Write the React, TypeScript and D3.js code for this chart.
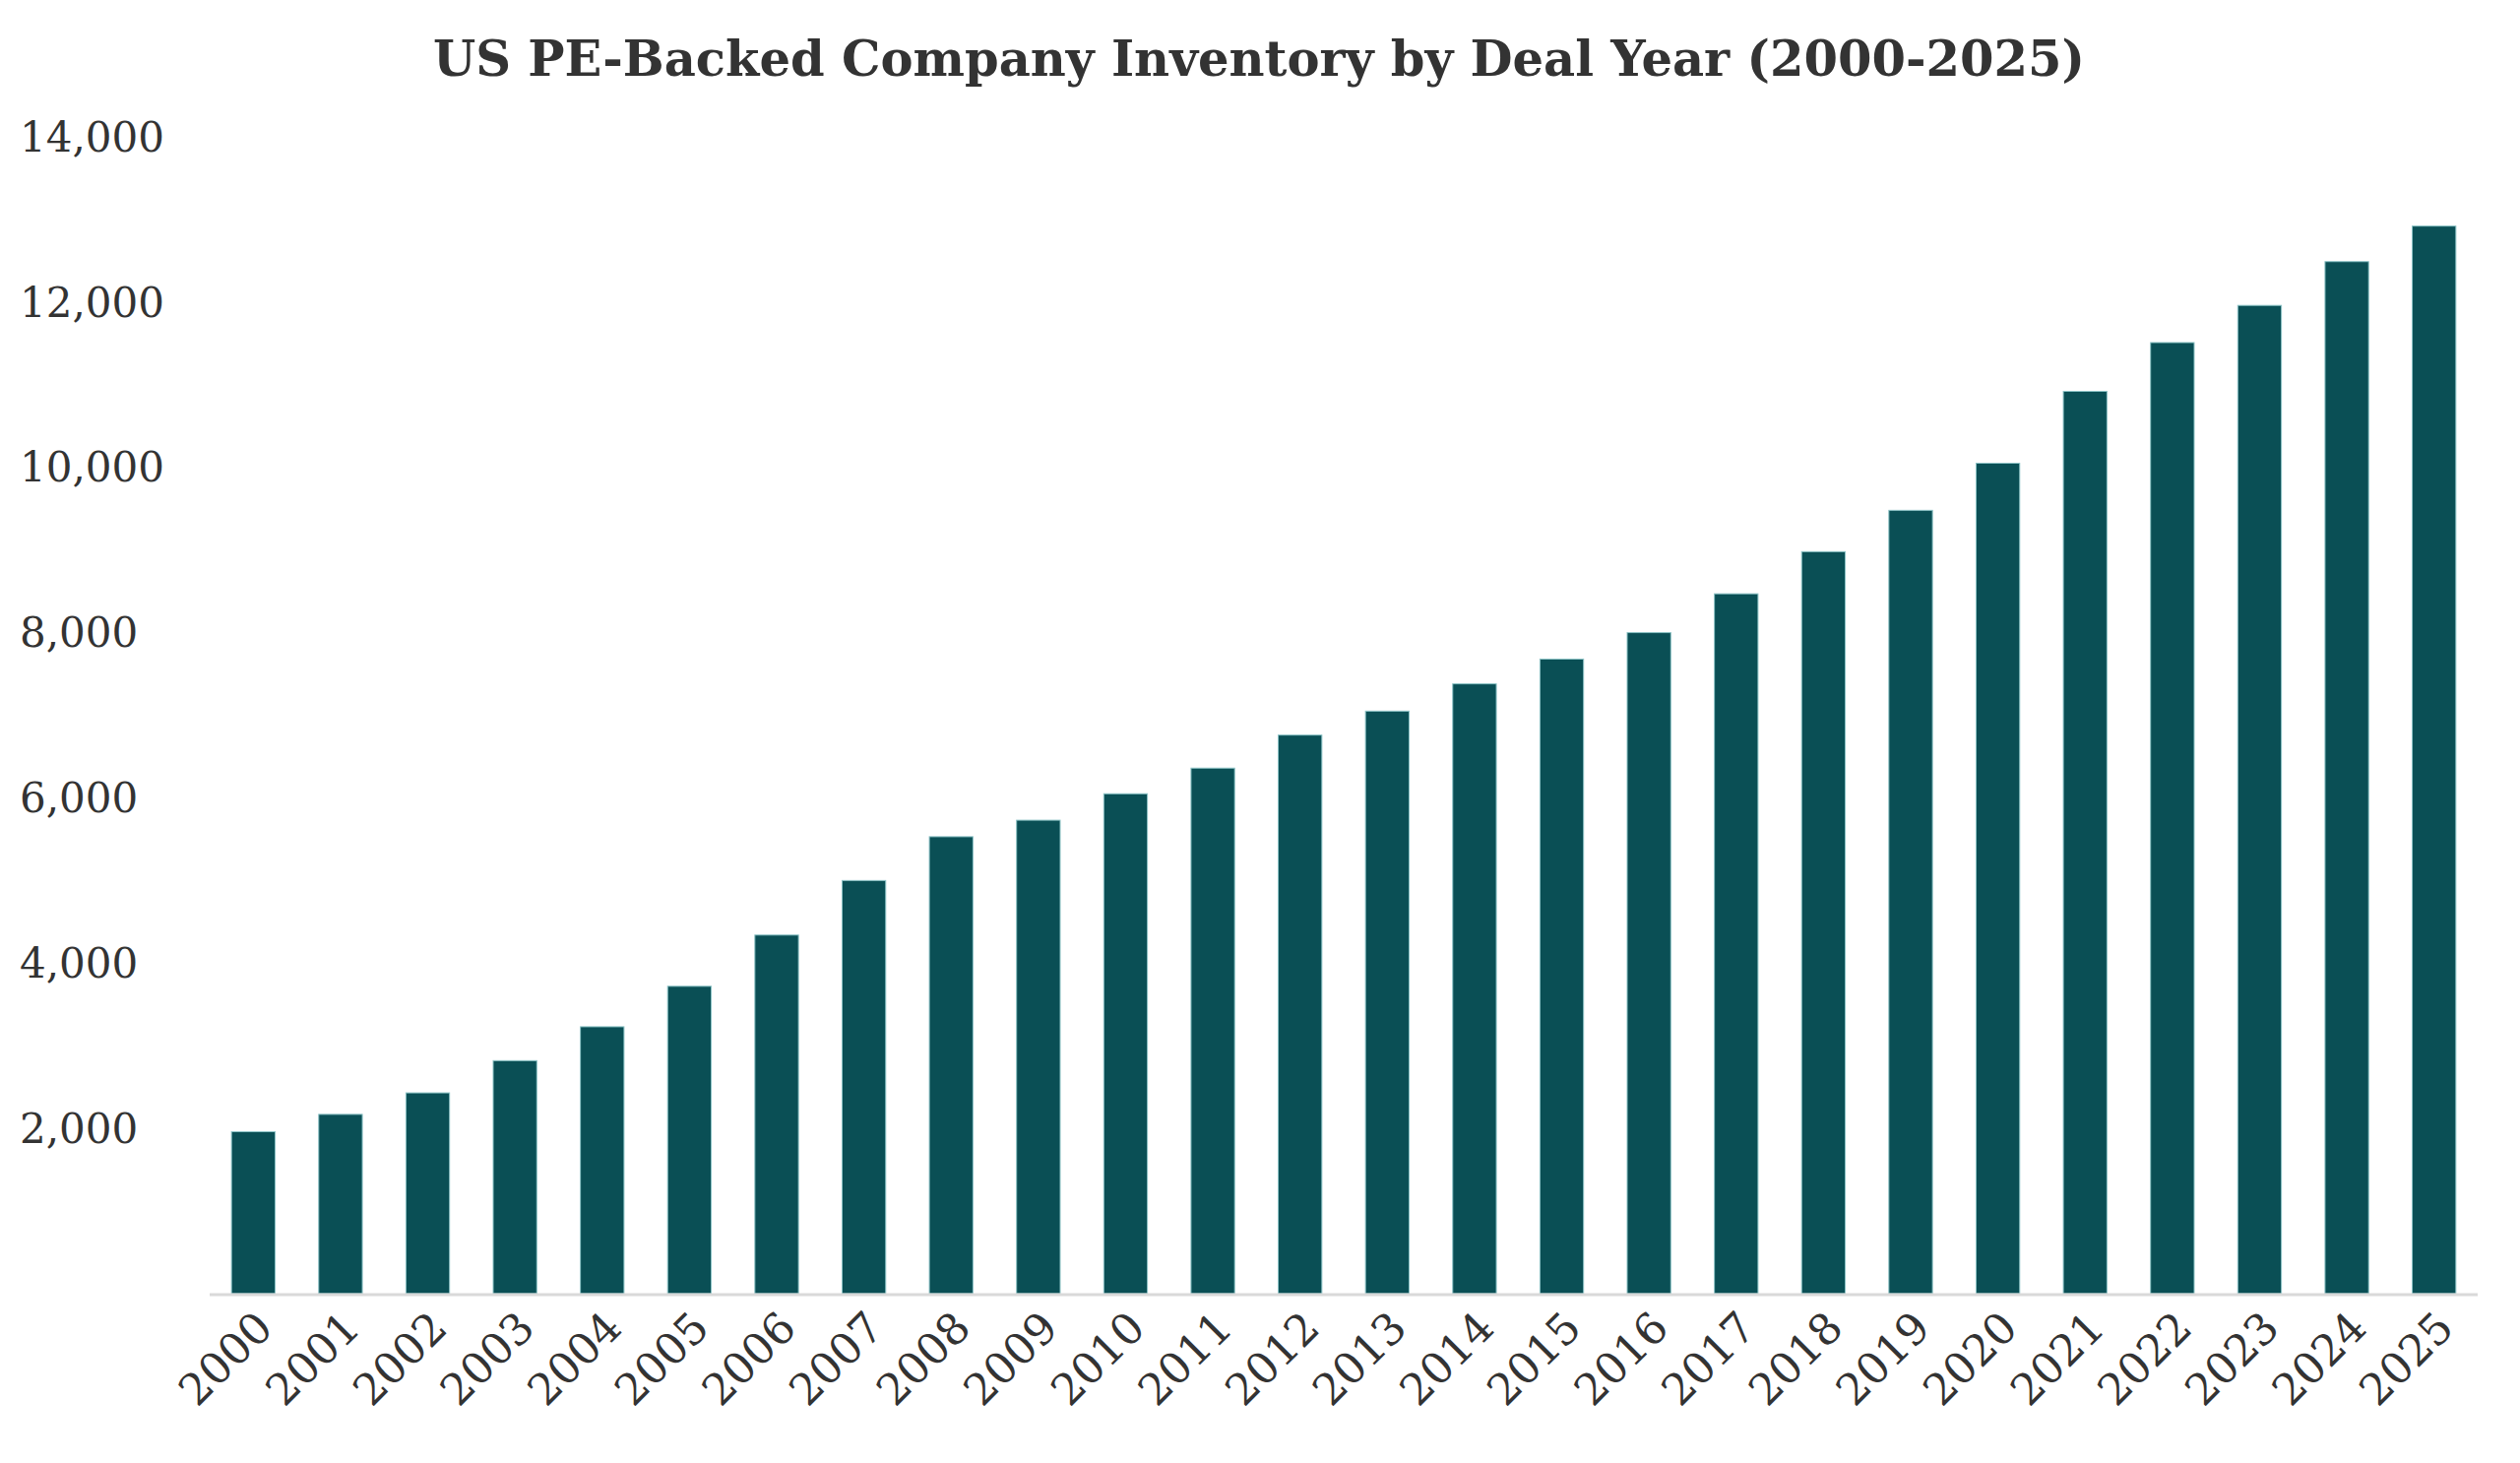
import React, { useRef, useEffect } from 'react'
import * as d3 from 'd3'

const years: string[] = [
  '2000', '2001', '2002', '2003', '2004', '2005', '2006', '2007', '2008',
  '2009', '2010', '2011', '2012', '2013', '2014', '2015', '2016', '2017',
  '2018', '2019', '2020', '2021', '2022', '2023', '2024', '2025',
]

const inventory: number[] = [
  1960, 2170, 2430, 2820, 3230, 3720, 4340, 5000, 5530,
  5730, 6050, 6360, 6760, 7050, 7380, 7680, 8000, 8470,
  8980, 9480, 10050, 10920, 11510, 11960, 12490, 12920,
]

const yTicks: number[] = [2000, 4000, 6000, 8000, 10000, 12000, 14000]

const title = 'US PE-Backed Company Inventory by Deal Year (2000-2025)'

const width = 2560
const height = 1486
const margin = { top: 139, right: 43, bottom: 172, left: 213 }
const serif = "Georgia, 'DejaVu Serif', serif"

const App: React.FC = () => {
  const svgRef = useRef<SVGSVGElement | null>(null)

  useEffect(() => {
    if (!svgRef.current) return
    const svg = d3.select(svgRef.current)
    svg.selectAll('*').remove()

    const iw = width - margin.left - margin.right
    const ih = height - margin.top - margin.bottom

    const x = d3.scaleBand<string>()
      .domain(years)
      .range([0, iw])
      .paddingInner(0.5)
      .paddingOuter(0.25)

    const y = d3.scaleLinear()
      .domain([0, 14000])
      .range([ih, 0])

    const chart = svg.append('g')
      .attr('transform', `translate(${margin.left},${margin.top})`)

    // title
    svg.append('text')
      .attr('x', 1279)
      .attr('y', 77)
      .attr('text-anchor', 'middle')
      .style('font-family', serif)
      .style('font-weight', 'bold')
      .style('font-size', '49.6px')
      .style('fill', '#333333')
      .text(title)

    // y tick labels (left aligned at page edge, no axis line)
    svg.append('g')
      .selectAll('text')
      .data(yTicks)
      .join('text')
      .attr('x', 20)
      .attr('y', d => margin.top + y(d))
      .attr('dy', '0.35em')
      .style('font-family', serif)
      .style('font-size', '42px')
      .style('fill', '#333333')
      .text(d => d3.format(',')(d))

    // bars
    chart.append('g')
      .selectAll('rect')
      .data(inventory)
      .join('rect')
      .attr('x', (_, i) => x(years[i])!)
      .attr('y', d => y(d))
      .attr('width', x.bandwidth())
      .attr('height', d => ih - y(d))
      .attr('fill', '#0a4f55')
      .attr('stroke', '#8cc3c6')
      .attr('stroke-width', 1)

    // baseline
    chart.append('line')
      .attr('x1', 0)
      .attr('x2', iw)
      .attr('y1', ih + 1)
      .attr('y2', ih + 1)
      .attr('stroke', '#d9d9d9')
      .attr('stroke-width', 3)

    // x tick labels rotated -45
    chart.append('g')
      .selectAll('text')
      .data(years)
      .join('text')
      .attr('transform', d => `translate(${x(d)! + x.bandwidth() / 2 + 5},${ih + 20}) rotate(-45)`)
      .attr('text-anchor', 'end')
      .attr('dy', '0.55em')
      .style('font-family', serif)
      .style('font-size', '44px')
      .style('fill', '#333333')
      .text(d => d)
  }, [])

  return (
    <svg
      ref={svgRef}
      width={width}
      height={height}
      style={{ position: 'absolute', left: 0, top: 0, background: '#ffffff' }}
    />
  )
}

export default App
